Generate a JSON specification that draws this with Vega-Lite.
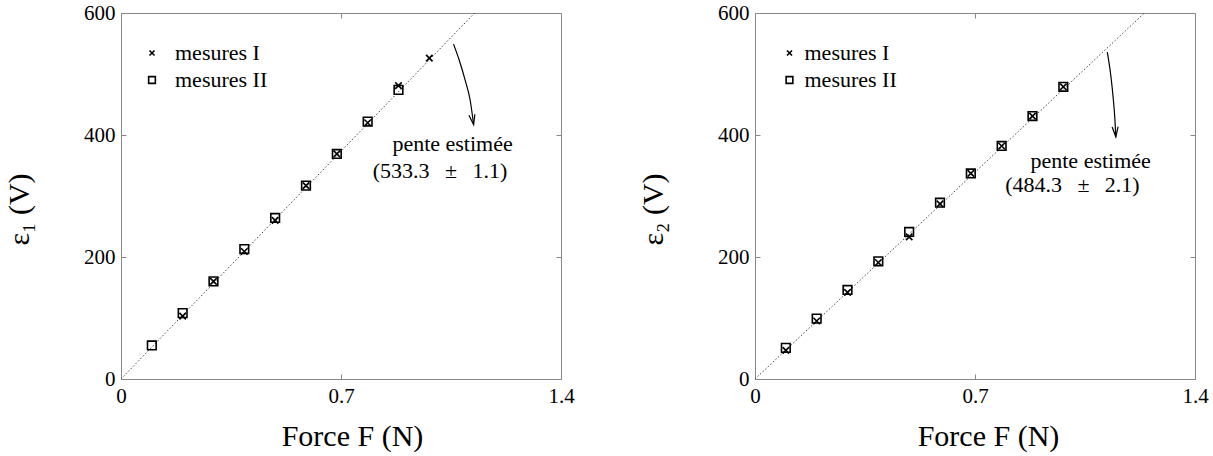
{
  "$schema": "https://vega.github.io/schema/vega-lite/v6.json",
  "padding": {"left": 4, "top": 1, "right": 0, "bottom": 0},
  "config": {
    "font": "Liberation Serif, serif",
    "view": {"stroke": "#888888", "strokeWidth": 1},
    "axis": {"grid": false, "domain": false, "labelFont": "Liberation Serif, serif", "labelFontSize": 21, "labelColor": "#000000", "titleFont": "Liberation Serif, serif", "titleFontSize": 30, "titleFontWeight": "normal", "titleColor": "#000000", "tickColor": "#888888", "tickSize": -5, "labelPadding": 11, "labelExpr": "'' + datum.value"},
    "legend": {"labelFont": "Liberation Serif, serif", "labelFontSize": 22, "labelColor": "#000000", "symbolSize": 45, "symbolStrokeWidth": 1.6, "symbolStrokeColor": "#000000", "rowPadding": 5, "padding": 0}
  },
  "datasets": {
    "pts1": [
      {"F": 0.0981, "eps": 55, "serie": "mesures II"},
      {"F": 0.1962, "eps": 108, "serie": "mesures II"},
      {"F": 0.2943, "eps": 160, "serie": "mesures II"},
      {"F": 0.3924, "eps": 213, "serie": "mesures II"},
      {"F": 0.4905, "eps": 264, "serie": "mesures II"},
      {"F": 0.5886, "eps": 317, "serie": "mesures II"},
      {"F": 0.6867, "eps": 369, "serie": "mesures II"},
      {"F": 0.7848, "eps": 422, "serie": "mesures II"},
      {"F": 0.8829, "eps": 474, "serie": "mesures II"},
      {"F": 0.1962, "eps": 103, "serie": "mesures I"},
      {"F": 0.2943, "eps": 160, "serie": "mesures I"},
      {"F": 0.3924, "eps": 209, "serie": "mesures I"},
      {"F": 0.4905, "eps": 260, "serie": "mesures I"},
      {"F": 0.5886, "eps": 317, "serie": "mesures I"},
      {"F": 0.6867, "eps": 369, "serie": "mesures I"},
      {"F": 0.7848, "eps": 420, "serie": "mesures I"},
      {"F": 0.8829, "eps": 481, "serie": "mesures I"},
      {"F": 0.981, "eps": 526, "serie": "mesures I"}
    ],
    "pts2": [
      {"F": 0.0981, "eps": 51, "serie": "mesures II"},
      {"F": 0.1962, "eps": 99, "serie": "mesures II"},
      {"F": 0.2943, "eps": 146, "serie": "mesures II"},
      {"F": 0.3924, "eps": 193, "serie": "mesures II"},
      {"F": 0.4905, "eps": 241, "serie": "mesures II"},
      {"F": 0.5886, "eps": 289, "serie": "mesures II"},
      {"F": 0.6867, "eps": 337, "serie": "mesures II"},
      {"F": 0.7848, "eps": 382, "serie": "mesures II"},
      {"F": 0.8829, "eps": 431, "serie": "mesures II"},
      {"F": 0.981, "eps": 479, "serie": "mesures II"},
      {"F": 0.0981, "eps": 47, "serie": "mesures I"},
      {"F": 0.1962, "eps": 95, "serie": "mesures I"},
      {"F": 0.2943, "eps": 142, "serie": "mesures I"},
      {"F": 0.3924, "eps": 191, "serie": "mesures I"},
      {"F": 0.4905, "eps": 233, "serie": "mesures I"},
      {"F": 0.5886, "eps": 287, "serie": "mesures I"},
      {"F": 0.6867, "eps": 337, "serie": "mesures I"},
      {"F": 0.7848, "eps": 382, "serie": "mesures I"},
      {"F": 0.8829, "eps": 431, "serie": "mesures I"},
      {"F": 0.981, "eps": 479, "serie": "mesures I"}
    ],
    "fit1": [{"F": 0, "eps": 0}, {"F": 1.125, "eps": 600}],
    "fit2": [{"F": 0, "eps": 0}, {"F": 1.239, "eps": 600}],
    "arrow1": [
      {"F": 1.058, "eps": 549},
      {"F": 1.076, "eps": 523},
      {"F": 1.095, "eps": 490},
      {"F": 1.111, "eps": 457},
      {"F": 1.122, "eps": 417}
    ],
    "arrow2": [
      {"F": 1.121, "eps": 536},
      {"F": 1.132, "eps": 498},
      {"F": 1.140, "eps": 459},
      {"F": 1.145, "eps": 427},
      {"F": 1.148, "eps": 397}
    ],
    "head1": [{"F": 1.122, "eps": 417}],
    "head2": [{"F": 1.148, "eps": 397}],
    "txt1": [
      {"F": 1.055, "eps": 385, "label": "pente estimée"},
      {"F": 1.015, "eps": 341, "label": "(533.3\u2002\u2009±\u2002\u20091.1)"}
    ],
    "txt2": [
      {"F": 1.068, "eps": 358, "label": "pente estimée"},
      {"F": 1.01, "eps": 318, "label": "(484.3\u2002\u2009±\u2002\u20092.1)"}
    ]
  },
  "spacing": 63,
  "resolve": {"scale": {"shape": "independent"}, "legend": {"shape": "independent"}},
  "hconcat": [
    {
      "width": 440,
      "height": 366,
      "resolve": {"axis": {"x": "independent", "y": "independent"}},
      "layer": [
        {
          "data": {"name": "fit1"},
          "mark": {"type": "line", "strokeDash": [1.5, 2], "color": "#444444", "strokeWidth": 1},
          "encoding": {
            "x": {"field": "F", "type": "quantitative", "scale": {"domain": [0, 1.4]}, "axis": {"values": [0, 0.7, 1.4], "title": "Force F (N)", "labelFlush": false, "titlePadding": 15, "titleX": 231}},
            "y": {"field": "eps", "type": "quantitative", "scale": {"domain": [0, 600]}, "axis": {"values": [0, 200, 400, 600], "title": "ε₁ (V)", "titlePadding": 49, "titleY": 196}}
          }
        },
        {
          "data": {"name": "pts1"},
          "mark": {"type": "point", "filled": false, "stroke": "#000000", "strokeWidth": 1.6, "size": 75, "opacity": 1},
          "encoding": {
            "x": {"field": "F", "type": "quantitative", "axis": {"orient": "top", "labels": false, "title": null, "values": [0.7]}},
            "y": {"field": "eps", "type": "quantitative", "axis": {"orient": "right", "labels": false, "title": null, "values": [200, 400]}},
            "shape": {"field": "serie", "type": "nominal", "scale": {"domain": ["mesures I", "mesures II"], "range": ["M-0.75,-0.75L0.75,0.75M0.75,-0.75L-0.75,0.75", "square"]}, "legend": {"title": null, "orient": "none", "legendX": 20, "legendY": 29, "labelOffset": 12}}
          }
        },
        {
          "data": {"name": "arrow1"},
          "mark": {"type": "line", "interpolate": "monotone", "color": "#000000", "strokeWidth": 1.2},
          "encoding": {
            "x": {"field": "F", "type": "quantitative", "axis": null},
            "y": {"field": "eps", "type": "quantitative", "axis": null}
          }
        },
        {
          "data": {"name": "head1"},
          "mark": {"type": "point", "shape": "M-0.3,-1L0,0L0.3,-1", "size": 400, "filled": false, "stroke": "#000000", "strokeWidth": 1.2, "angle": 350, "opacity": 1},
          "encoding": {
            "x": {"field": "F", "type": "quantitative", "axis": null},
            "y": {"field": "eps", "type": "quantitative", "axis": null}
          }
        },
        {
          "data": {"name": "txt1"},
          "mark": {"type": "text", "fontSize": 22, "font": "Liberation Serif, serif", "align": "center", "baseline": "middle", "color": "#000000"},
          "encoding": {
            "x": {"field": "F", "type": "quantitative", "axis": null},
            "y": {"field": "eps", "type": "quantitative", "axis": null},
            "text": {"field": "label"}
          }
        }
      ]
    },
    {
      "width": 440,
      "height": 366,
      "resolve": {"axis": {"x": "independent", "y": "independent"}},
      "layer": [
        {
          "data": {"name": "fit2"},
          "mark": {"type": "line", "strokeDash": [1.5, 2], "color": "#444444", "strokeWidth": 1},
          "encoding": {
            "x": {"field": "F", "type": "quantitative", "scale": {"domain": [0, 1.4]}, "axis": {"values": [0, 0.7, 1.4], "title": "Force F (N)", "labelFlush": false, "titlePadding": 15, "titleX": 233}},
            "y": {"field": "eps", "type": "quantitative", "scale": {"domain": [0, 600]}, "axis": {"values": [0, 200, 400, 600], "title": "ε₂ (V)", "titlePadding": 49, "titleY": 196}}
          }
        },
        {
          "data": {"name": "pts2"},
          "mark": {"type": "point", "filled": false, "stroke": "#000000", "strokeWidth": 1.6, "size": 75, "opacity": 1},
          "encoding": {
            "x": {"field": "F", "type": "quantitative", "axis": {"orient": "top", "labels": false, "title": null, "values": [0.7]}},
            "y": {"field": "eps", "type": "quantitative", "axis": {"orient": "right", "labels": false, "title": null, "values": [200, 400]}},
            "shape": {"field": "serie", "type": "nominal", "scale": {"domain": ["mesures I", "mesures II"], "range": ["M-0.75,-0.75L0.75,0.75M0.75,-0.75L-0.75,0.75", "square"]}, "legend": {"title": null, "orient": "none", "legendX": 23.5, "legendY": 29, "labelOffset": 4}}
          }
        },
        {
          "data": {"name": "arrow2"},
          "mark": {"type": "line", "interpolate": "monotone", "color": "#000000", "strokeWidth": 1.2},
          "encoding": {
            "x": {"field": "F", "type": "quantitative", "axis": null},
            "y": {"field": "eps", "type": "quantitative", "axis": null}
          }
        },
        {
          "data": {"name": "head2"},
          "mark": {"type": "point", "shape": "M-0.3,-1L0,0L0.3,-1", "size": 400, "filled": false, "stroke": "#000000", "strokeWidth": 1.2, "angle": 356, "opacity": 1},
          "encoding": {
            "x": {"field": "F", "type": "quantitative", "axis": null},
            "y": {"field": "eps", "type": "quantitative", "axis": null}
          }
        },
        {
          "data": {"name": "txt2"},
          "mark": {"type": "text", "fontSize": 22, "font": "Liberation Serif, serif", "align": "center", "baseline": "middle", "color": "#000000"},
          "encoding": {
            "x": {"field": "F", "type": "quantitative", "axis": null},
            "y": {"field": "eps", "type": "quantitative", "axis": null},
            "text": {"field": "label"}
          }
        }
      ]
    }
  ]
}
